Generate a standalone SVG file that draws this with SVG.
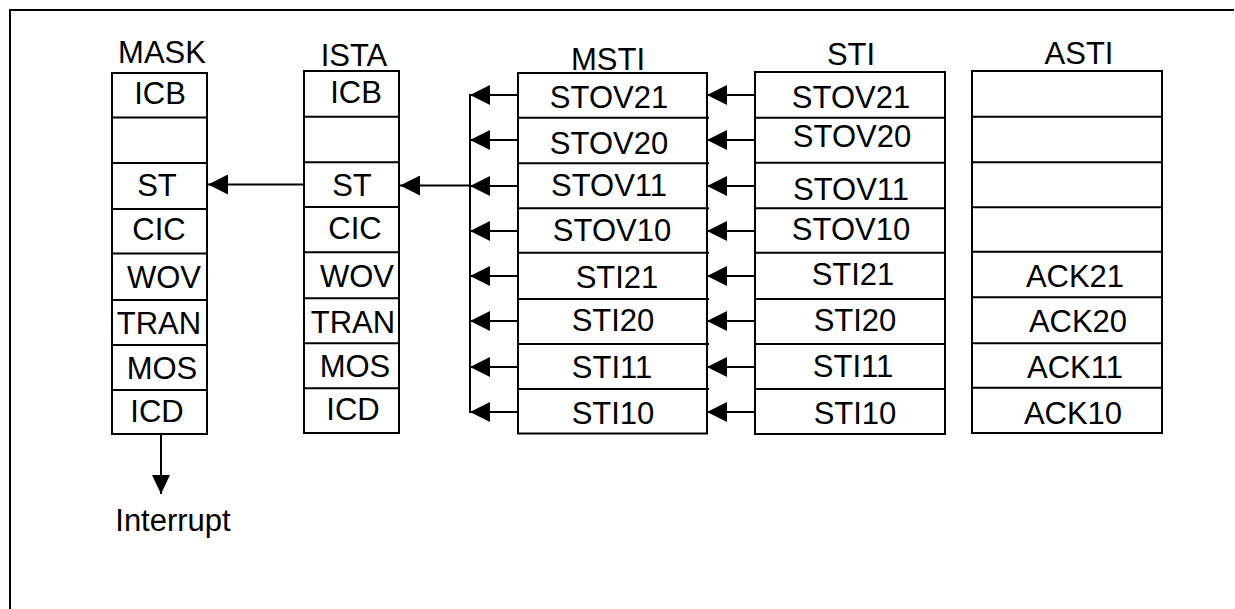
<svg xmlns="http://www.w3.org/2000/svg" width="1235" height="609" viewBox="0 0 1235 609">
<defs>
<marker id="ah" markerUnits="userSpaceOnUse" viewBox="0 0 20 20" refX="20" refY="10" markerWidth="20" markerHeight="20" orient="auto">
<path d="M0,0 L20,10 L0,20 Z" fill="#000"/>
</marker>
<marker id="ahv" markerUnits="userSpaceOnUse" viewBox="0 0 19 18" refX="19" refY="9" markerWidth="19" markerHeight="18" orient="auto">
<path d="M0,0 L19,9 L0,18 Z" fill="#000"/>
</marker>
</defs>
<style>
text{font-family:"Liberation Sans",Arial,sans-serif;font-size:31px;fill:#000;text-anchor:middle}
.box{fill:none;stroke:#000;stroke-width:2}
.row{stroke:#000;stroke-width:2}
.c{stroke:#000;stroke-width:2;fill:none}
.a{stroke:#000;stroke-width:2;fill:none;marker-end:url(#ah)}
</style>
<rect width="1235" height="609" fill="#fff"/>
<g id="frame">
<path d="M10,609 L10,10 L1234,10" class="c"/>
</g>

<g id="mask">
<text x="162" y="63">MASK</text>
<rect class="box" x="112" y="73" width="95" height="361"/>
<path class="row" d="M112,117.5H207M112,163H207M112,209H207M112,253.5H207M112,300H207M112,345H207M112,390H207"/>
<text x="160" y="104">ICB</text>
<text x="157" y="196">ST</text>
<text x="159" y="240">CIC</text>
<text x="164" y="288">WOV</text>
<text x="159" y="334">TRAN</text>
<text x="162" y="379">MOS</text>
<text x="157" y="422">ICD</text>
</g>

<g id="ista">
<text x="354" y="66">ISTA</text>
<rect class="box" x="304" y="71" width="95" height="362"/>
<path class="row" d="M304,116.7H399M304,162.3H399M304,207H399M304,252.3H399M304,298.3H399M304,343.3H399M304,388.3H399"/>
<text x="356" y="103">ICB</text>
<text x="352" y="196">ST</text>
<text x="355" y="239">CIC</text>
<text x="357" y="287">WOV</text>
<text x="353" y="333">TRAN</text>
<text x="355" y="377">MOS</text>
<text x="353" y="420">ICD</text>
</g>

<g id="msti">
<text x="608" y="70">MSTI</text>
<rect class="box" x="518" y="73" width="189" height="360.5"/>
<path class="row" d="M518,117.7H709M518,163.3H709M518,208.3H709M518,252.7H709M518,299H709M518,344H709M518,389H709"/>
<text x="609" y="108">STOV21</text>
<text x="609" y="154">STOV20</text>
<text x="609" y="196">STOV11</text>
<text x="612" y="241">STOV10</text>
<text x="617" y="288">STI21</text>
<text x="613" y="331">STI20</text>
<text x="612" y="378">STI11</text>
<text x="613" y="424">STI10</text>
</g>

<g id="sti">
<text x="851" y="65">STI</text>
<rect class="box" x="755" y="72" width="190" height="362"/>
<path class="row" d="M755,117.7H945M755,162.7H945M755,208.3H945M755,252.7H945M755,299H945M755,344H945M755,389H945"/>
<text x="851" y="108">STOV21</text>
<text x="852" y="147">STOV20</text>
<text x="851" y="200">STOV11</text>
<text x="851" y="240">STOV10</text>
<text x="853" y="285">STI21</text>
<text x="855" y="331">STI20</text>
<text x="853" y="377">STI11</text>
<text x="855" y="424">STI10</text>
</g>

<g id="asti">
<text x="1079" y="64">ASTI</text>
<rect class="box" x="972" y="71" width="190" height="362"/>
<path class="row" d="M972,116.7H1163M972,162.3H1163M972,207.3H1163M972,251.7H1163M972,297.3H1163M972,343.3H1163M972,387.7H1163"/>
<text x="1075" y="287">ACK21</text>
<text x="1078" y="332">ACK20</text>
<text x="1075" y="378">ACK11</text>
<text x="1073" y="424">ACK10</text>
</g>

<g id="interrupt">
<text x="173" y="531">Interrupt</text>
</g>

<g id="connectors">
<line class="a" x1="304" y1="184.5" x2="208" y2="184.5"/>
<line class="a" x1="470" y1="185.5" x2="400" y2="185.5"/>
<line class="c" x1="470" y1="94" x2="470" y2="413"/>
<line class="a" x1="518" y1="95" x2="470" y2="95"/>
<line class="a" x1="518" y1="140" x2="470" y2="140"/>
<line class="a" x1="518" y1="186" x2="470" y2="186"/>
<line class="a" x1="518" y1="231" x2="470" y2="231"/>
<line class="a" x1="518" y1="276" x2="470" y2="276"/>
<line class="a" x1="518" y1="321" x2="470" y2="321"/>
<line class="a" x1="518" y1="367" x2="470" y2="367"/>
<line class="a" x1="518" y1="412" x2="470" y2="412"/>
<line class="a" x1="755" y1="95" x2="707" y2="95"/>
<line class="a" x1="755" y1="140" x2="707" y2="140"/>
<line class="a" x1="755" y1="186" x2="707" y2="186"/>
<line class="a" x1="755" y1="231" x2="707" y2="231"/>
<line class="a" x1="755" y1="276" x2="707" y2="276"/>
<line class="a" x1="755" y1="321" x2="707" y2="321"/>
<line class="a" x1="755" y1="367" x2="707" y2="367"/>
<line class="a" x1="755" y1="412" x2="707" y2="412"/>
<line class="c" x1="161" y1="434" x2="161" y2="494" style="marker-end:url(#ahv)"/>
</g>
</svg>
